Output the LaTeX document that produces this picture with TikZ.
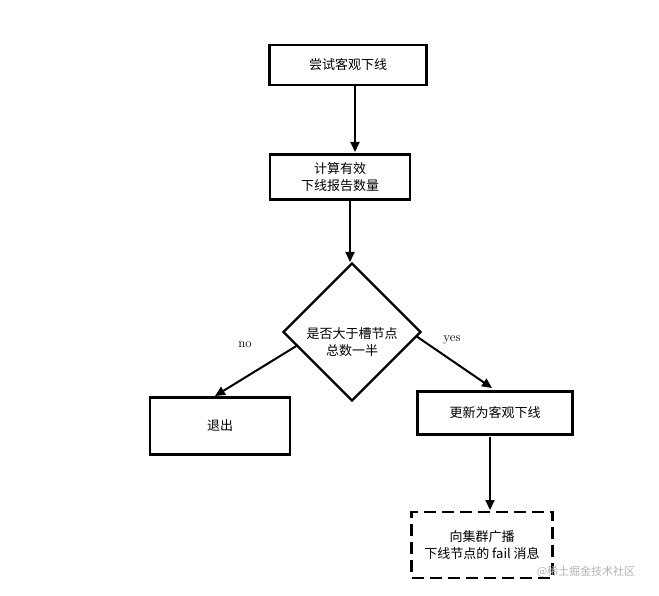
\documentclass[tikz,border=0pt]{standalone}
\usepackage{fontspec}
\newfontfamily\cjk{Noto Sans CJK SC}
\usetikzlibrary{arrows.meta,shapes.geometric}
\begin{document}
\begin{tikzpicture}[x=1pt,y=-1pt,
  box/.style={draw,line width=2.2pt,font=\cjk\fontsize{13}{17}\selectfont,align=center,inner sep=0pt},
  arr/.style={line width=2pt,-{Triangle[length=10pt,width=9pt]}},
  lab/.style={font=\fontsize{13}{15}\selectfont}]
\useasboundingbox (0,0) rectangle (659,596);
\node[box,minimum width=157pt,minimum height=40pt] (b1) at (348,65) {尝试客观下线};
\node[box,minimum width=140pt,minimum height=45pt] (b2) at (340,177) {计算有效\\下线报告数量};
\node[draw,line width=2.2pt,diamond,minimum width=138pt,minimum height=138pt,inner sep=0pt] (d) at (352,332) {};
\node[font=\cjk\fontsize{13}{17}\selectfont,align=center] at (352,342) {是否大于槽节点\\总数一半};
\node[box,minimum width=140pt,minimum height=57pt] (q) at (220,426) {退出};
\node[box,minimum width=155pt,minimum height=43pt] (u) at (495,413) {更新为客观下线};
\node[box,dashed,dash pattern=on 12pt off 6pt,minimum width=141pt,minimum height=66pt] (f) at (482,545) {向集群广播\\下线节点的 fail 消息};
\node[lab] at (245,345) {no};
\node[lab] at (452,340) {yes};
\node[font=\cjk\fontsize{11}{13}\selectfont,text=gray!60] at (586,572) {@稀土掘金技术社区};
\draw[arr] (355,85) -- (355,152);
\draw[arr] (350,200) -- (350,262);
\draw[arr] (298,345) -- (215,396);
\draw[arr] (416,336) -- (492,388);
\draw[arr] (490,437) -- (490,510);
\end{tikzpicture}
\end{document}
